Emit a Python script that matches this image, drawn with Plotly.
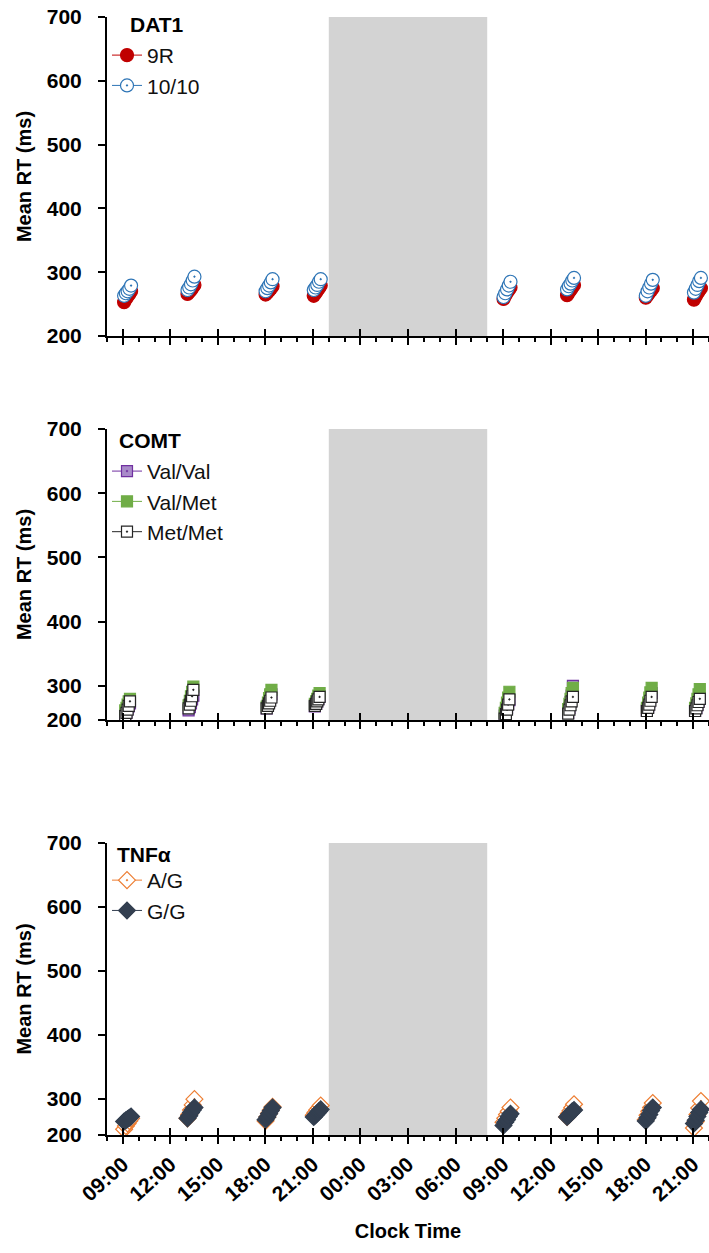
import plotly.graph_objects as go

# ---------------- data ----------------
cluster_hours = [9.3, 13.3, 18.23, 21.27, 33.25, 37.26, 42.23, 45.27]   # hours since 00:00 day 1
session_offsets = [-0.22, -0.11, 0.0, 0.11, 0.22]                        # hours within each test bout
session_offsets_comt = [-0.15, -0.07, 0.0, 0.07, 0.15]
night_start, night_end = 22, 32
tick_hours = list(range(9, 46, 3))
tick_labels = ["09:00", "12:00", "15:00", "18:00", "21:00", "00:00", "03:00",
               "06:00", "09:00", "12:00", "15:00", "18:00", "21:00"]

dat1_9r = [[253, 258, 262, 266, 270], [266, 269, 272, 276, 280], [265, 268, 271, 274, 278],
           [263, 267, 271, 275, 279], [258, 263, 268, 272, 276], [264, 268, 272, 276, 280],
           [260, 264, 268, 271, 275], [257, 262, 267, 271, 275]]
dat1_1010 = [[263, 267, 270, 274, 279], [272, 276, 281, 287, 293], [270, 275, 279, 284, 289],
             [272, 276, 280, 285, 289], [261, 267, 273, 279, 285], [273, 278, 282, 287, 291],
             [263, 270, 276, 282, 288], [268, 274, 280, 286, 291]]

comt_valval = [[255, 259, 264, 268, 273], [262, 267, 273, 279, 285], [265, 270, 275, 281, 287],
               [268, 272, 276, 280, 284], [254, 260, 266, 272, 278], [258, 266, 275, 285, 300],
               [262, 268, 275, 282, 289], [261, 266, 271, 276, 281]]
comt_valmet = [[262, 266, 271, 276, 280], [270, 277, 284, 291, 299], [268, 274, 281, 287, 294],
               [272, 276, 280, 285, 289], [258, 266, 274, 282, 291], [264, 272, 280, 289, 297],
               [266, 274, 282, 290, 297], [266, 273, 280, 287, 295]]
comt_metmet = [[253, 258, 263, 269, 276], [265, 271, 277, 284, 294], [265, 269, 273, 277, 282],
               [269, 272, 276, 279, 283], [249, 256, 263, 271, 279], [257, 263, 270, 276, 283],
               [261, 266, 271, 277, 283], [261, 265, 270, 275, 280]]

tnf_ag = [[253, 258, 262, 266, 270], [270, 276, 283, 291, 300], [266, 272, 278, 283, 288],
          [275, 279, 283, 286, 290], [264, 270, 276, 281, 287], [272, 277, 282, 287, 292],
          [268, 275, 281, 287, 294], [255, 265, 276, 286, 297]]
tnf_gg = [[265, 267, 269, 271, 273], [270, 274, 279, 283, 287], [268, 272, 277, 282, 287],
          [272, 275, 278, 281, 284], [259, 264, 268, 273, 277], [272, 275, 278, 281, 283],
          [266, 271, 276, 282, 287], [262, 267, 273, 279, 284]]

y_tick_vals = [300, 400, 500, 600, 700]
y_tick_text = ["200", "300", "400", "500", "600", "700"]
panel_ymin = [200, 247, 244]
legend_titles = ["DAT1", "COMT", "TNFα"]

# ---------------- helpers ----------------
FONT = "Liberation Sans, Arial, sans-serif"


def points(values, offsets):
    xs, ys = [], []
    for h, vals in zip(cluster_hours, values):
        for off, v in zip(offsets, vals):
            xs += [h + off, None]
            ys += [v, None]
    return xs, ys


fig = go.Figure()

series = [
    (1, "9R", dat1_9r, session_offsets, "circle", "#c00000", "#c00000", 13, "legend"),
    (1, "10/10", dat1_1010, session_offsets, "circle-dot", "white", "#2e75b6", 13, "legend"),
    (2, "Val/Val", comt_valval, session_offsets_comt, "square-dot", "#a98bc9", "#7030a0", 11, "legend2"),
    (2, "Val/Met", comt_valmet, session_offsets_comt, "square", "#70ad47", "#70ad47", 11, "legend2"),
    (2, "Met/Met", comt_metmet, session_offsets_comt, "square-dot", "white", "#262626", 11, "legend2"),
    (3, "A/G", tnf_ag, session_offsets, "diamond-dot", "white", "#ed7d31", 13, "legend3"),
    (3, "G/G", tnf_gg, session_offsets, "diamond", "#333f50", "#333f50", 13, "legend3"),
]

for panel, name, data, offs, sym, fill, lc, size, leg in series:
    xs, ys = points(data, offs)
    sfx = "" if panel == 1 else str(panel)
    fig.add_trace(go.Scatter(
        x=xs, y=ys, mode="lines+markers", name=name, connectgaps=False,
        line=dict(color=lc, width=1),
        marker=dict(symbol=sym, size=size, color=fill, line=dict(color=lc, width=1.2)),
        xaxis="x" + sfx, yaxis="y" + sfx, legend=leg))

# empty traces for overlay axes (upward half of the major ticks)
for i in range(3):
    fig.add_trace(go.Scatter(x=[], y=[], xaxis="x" + str(4 + i),
                             yaxis="y" if i == 0 else "y" + str(i + 1),
                             showlegend=False, hoverinfo="skip"))

domains = [[0.70396, 0.98502], [0.36564, 0.62203], [0.0, 0.25727]]
legend_keys = ["legend", "legend2", "legend3"]
legend_y = [0.9692, 0.6027, 0.2423]
title_pos = [(0.0349, 0.978), (0.0166, 0.6123), (0.0133, 0.2467)]

layout = dict(
    width=709, height=1253,
    margin=dict(l=107, r=0, t=0, b=118, autoexpand=False),
    paper_bgcolor="white", plot_bgcolor="white",
    font=dict(family=FONT, color="black"),
)

for i in range(3):
    sfx = "" if i == 0 else str(i + 1)
    ymin = panel_ymin[i]
    layout["yaxis" + sfx] = dict(
        domain=domains[i], range=[ymin, 700], anchor="x" + sfx, automargin=False,
        tickmode="array", tickvals=[ymin] + y_tick_vals, ticktext=y_tick_text,
        ticks="outside", ticklen=7, tickwidth=2, tickcolor="black", ticklabelstandoff=12,
        showline=True, linewidth=2, linecolor="black", showgrid=False, zeroline=False,
        tickfont=dict(size=21, family=FONT, weight="bold"),
        title=dict(text="Mean RT (ms)", font=dict(size=20, family=FONT, weight="bold"), standoff=10),
    )
    layout["xaxis" + sfx] = dict(
        domain=[0, 1], range=[8, 46], anchor="y" + sfx, automargin=False,
        tickmode="array", tickvals=tick_hours, ticktext=tick_labels,
        showticklabels=(i == 2), tickangle=-42,
        ticks="outside", ticklen=7, tickwidth=2, tickcolor="black",
        minor=dict(tickmode="linear", tick0=8, dtick=1, ticks="outside", ticklen=4,
                   tickwidth=1.5, tickcolor="black"),
        showline=True, linewidth=2, linecolor="black", showgrid=False, zeroline=False,
        tickfont=dict(size=21, family=FONT, weight="bold"),
    )
    if i == 2:
        layout["xaxis" + sfx]["title"] = dict(text="Clock Time", font=dict(size=20, family=FONT, weight="bold"),
                                              standoff=20)
    layout["xaxis" + str(4 + i)] = dict(
        domain=[0, 1], range=[8, 46], anchor="y" + sfx, overlaying="x" + sfx, automargin=False,
        tickmode="array", tickvals=tick_hours, showticklabels=False,
        ticks="inside", ticklen=7, tickwidth=2, tickcolor="black",
        showline=False, showgrid=False, zeroline=False,
    )
    layout[legend_keys[i]] = dict(
        x=0.0, xanchor="left", y=legend_y[i], yanchor="top",
        bgcolor="rgba(0,0,0,0)", borderwidth=0,
        font=dict(size=21, family=FONT, color="#111"),
        tracegroupgap=1,
    )

fig.update_layout(**layout)

for i in range(3):
    sfx = "" if i == 0 else str(i + 1)
    fig.add_shape(type="rect", xref="x" + sfx, yref="y" + sfx + " domain",
                  x0=night_start, x1=night_end, y0=0, y1=1,
                  fillcolor="#d3d3d3", line=dict(width=0), layer="below")
    tx, ty = title_pos[i]
    fig.add_annotation(text=legend_titles[i], xref="paper", yref="paper", x=tx, y=ty,
                       xanchor="left", yanchor="middle", showarrow=False,
                       font=dict(size=21, family=FONT, weight="bold", color="black"))

fig.write_html("out.html", config={"displayModeBar": False},
               post_script="document.body.style.margin='0';document.body.style.overflow='hidden';")
